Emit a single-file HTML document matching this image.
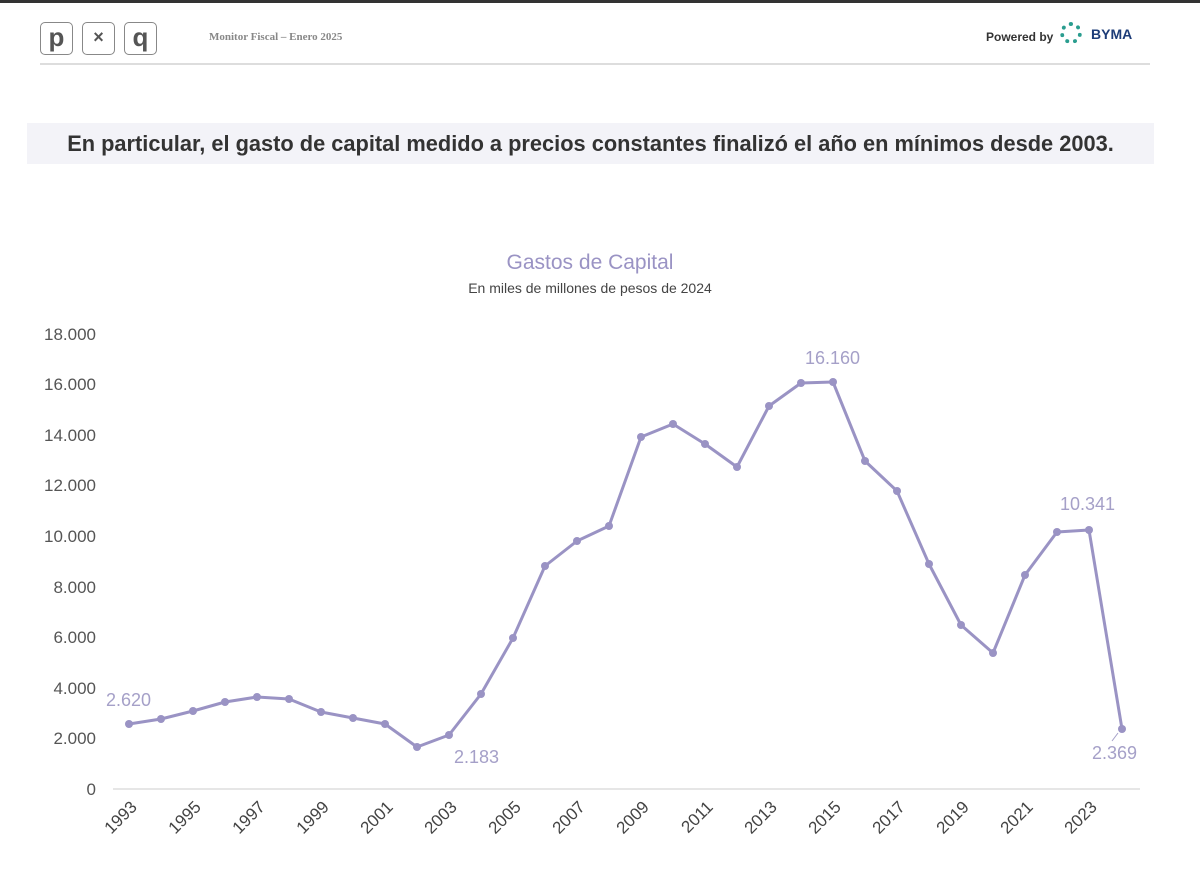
<!DOCTYPE html>
<html><head><meta charset="utf-8"><style>
body{margin:0;width:1200px;height:889px;background:#fff;font-family:"Liberation Sans",sans-serif;overflow:hidden;position:relative}
.top{position:absolute;left:0;top:0;width:1200px;height:3px;background:#333}
.box{position:absolute;top:22px;width:33px;height:33px;border:1.5px solid #888;border-radius:5px;font-size:26px;font-weight:bold;color:#555;text-align:center;line-height:28px;box-sizing:border-box}
</style></head><body>
<div class="top"></div>
<div class="box" style="left:40px">p</div>
<div class="box" style="left:82px;font-size:18px">×</div>
<div class="box" style="left:124px">q</div>
<div style="position:absolute;left:209px;top:31px;font-family:'Liberation Serif',serif;font-size:11px;color:#888;font-weight:bold">Monitor Fiscal – Enero 2025</div>
<div style="position:absolute;left:986px;top:30px;font-size:12px;font-weight:bold;color:#333">Powered by</div>
<div style="position:absolute;left:1060px;top:22px;width:22px;height:22px;border:4px dotted #2a9d8f;border-radius:50%;box-sizing:border-box"></div>
<div style="position:absolute;left:1091px;top:26px;font-size:14px;font-weight:bold;color:#1d3c78">BYMA</div>
<div style="position:absolute;left:40px;top:63px;width:1110px;height:2px;background:#ddd"></div>
<div style="position:absolute;left:27px;top:123px;width:1127px;height:41px;background:#f3f3f8"></div>
<div style="position:absolute;left:27px;top:131px;width:1127px;text-align:center;font-size:21.8px;font-weight:bold;color:#333">En particular, el gasto de capital medido a precios constantes finalizó el año en mínimos desde 2003.</div>
<svg width="1200" height="889" style="position:absolute;left:0;top:0" font-family="Liberation Sans, sans-serif">
<text x="590" y="269" text-anchor="middle" font-size="21" fill="#9a93c4">Gastos de Capital</text>
<text x="590" y="293" text-anchor="middle" font-size="14" fill="#444">En miles de millones de pesos de 2024</text>
<line x1="113" y1="789" x2="1140" y2="789" stroke="#ddd" stroke-width="1.5"/>
<g font-size="17" fill="#555" text-anchor="end">
<text x="96" y="795">0</text><text x="96" y="744">2.000</text><text x="96" y="694">4.000</text><text x="96" y="643">6.000</text><text x="96" y="593">8.000</text><text x="96" y="542">10.000</text><text x="96" y="491">12.000</text><text x="96" y="441">14.000</text><text x="96" y="390">16.000</text><text x="96" y="340">18.000</text>
</g>
<g font-size="17" fill="#444" text-anchor="end">
<text transform="translate(138,808) rotate(-45)">1993</text>
<text transform="translate(202,808) rotate(-45)">1995</text>
<text transform="translate(266,808) rotate(-45)">1997</text>
<text transform="translate(330,808) rotate(-45)">1999</text>
<text transform="translate(394,808) rotate(-45)">2001</text>
<text transform="translate(458,808) rotate(-45)">2003</text>
<text transform="translate(522,808) rotate(-45)">2005</text>
<text transform="translate(586,808) rotate(-45)">2007</text>
<text transform="translate(650,808) rotate(-45)">2009</text>
<text transform="translate(714,808) rotate(-45)">2011</text>
<text transform="translate(778,808) rotate(-45)">2013</text>
<text transform="translate(842,808) rotate(-45)">2015</text>
<text transform="translate(906,808) rotate(-45)">2017</text>
<text transform="translate(970,808) rotate(-45)">2019</text>
<text transform="translate(1034,808) rotate(-45)">2021</text>
<text transform="translate(1098,808) rotate(-45)">2023</text>
</g>
<polyline fill="none" stroke="#9a93c4" stroke-width="3" stroke-linejoin="round" points="129,724 161,719 193,711 225,702 257,697 289,699 321,712 353,718 385,724 417,747 449,735 481,694 513,638 545,566 577,541 609,526 641,437 673,424 705,444 737,467 769,406 801,383 833,382 865,461 897,491 929,564 961,625 993,653 1025,575 1057,532 1089,530 1122,729"/>
<g fill="#9a93c4">
<circle cx="129" cy="724" r="4"/><circle cx="161" cy="719" r="4"/><circle cx="193" cy="711" r="4"/><circle cx="225" cy="702" r="4"/><circle cx="257" cy="697" r="4"/><circle cx="289" cy="699" r="4"/><circle cx="321" cy="712" r="4"/><circle cx="353" cy="718" r="4"/><circle cx="385" cy="724" r="4"/><circle cx="417" cy="747" r="4"/><circle cx="449" cy="735" r="4"/><circle cx="481" cy="694" r="4"/><circle cx="513" cy="638" r="4"/><circle cx="545" cy="566" r="4"/><circle cx="577" cy="541" r="4"/><circle cx="609" cy="526" r="4"/><circle cx="641" cy="437" r="4"/><circle cx="673" cy="424" r="4"/><circle cx="705" cy="444" r="4"/><circle cx="737" cy="467" r="4"/><circle cx="769" cy="406" r="4"/><circle cx="801" cy="383" r="4"/><circle cx="833" cy="382" r="4"/><circle cx="865" cy="461" r="4"/><circle cx="897" cy="491" r="4"/><circle cx="929" cy="564" r="4"/><circle cx="961" cy="625" r="4"/><circle cx="993" cy="653" r="4"/><circle cx="1025" cy="575" r="4"/><circle cx="1057" cy="532" r="4"/><circle cx="1089" cy="530" r="4"/><circle cx="1122" cy="729" r="4"/>
</g>
<g font-size="18" fill="#a5a0c8">
<text x="106" y="706">2.620</text>
<text x="454" y="763">2.183</text>
<text x="805" y="364">16.160</text>
<text x="1060" y="510">10.341</text>
<text x="1092" y="759">2.369</text>
</g>
<line x1="1118" y1="733" x2="1112" y2="741" stroke="#a5a0c8"/>
</svg>
</body></html>
